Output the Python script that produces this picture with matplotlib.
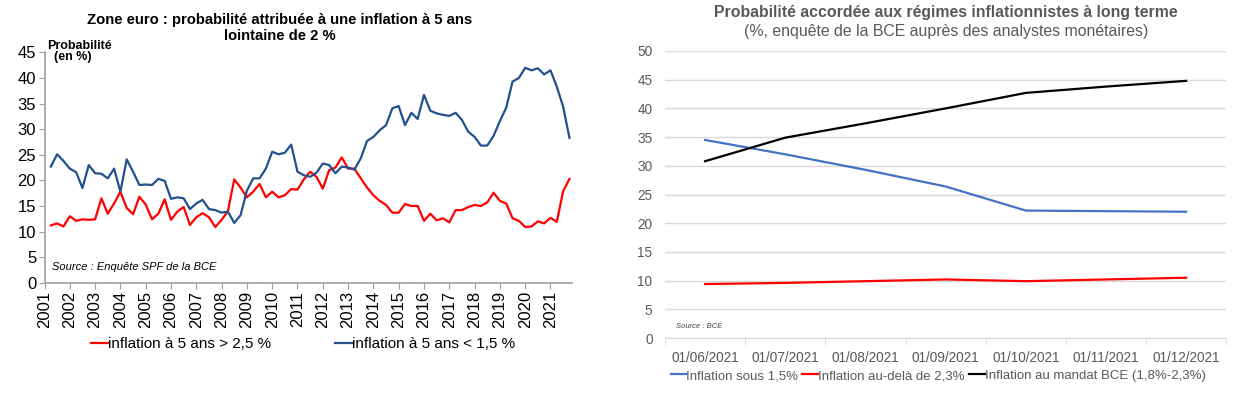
import matplotlib
matplotlib.use("Agg")
import matplotlib.pyplot as plt
import numpy as np

plt.rcParams['font.family'] = ['Liberation Sans', 'DejaVu Sans']

# --- left chart: SPF survey, quarterly 2001Q1 - 2021Q3 ---
quarters = [f"{y}Q{q}" for y in range(2001, 2022) for q in range(1, 5)][:83]

prob_above_25 = [
    11.2, 11.6, 11.0, 13.0, 12.1, 12.4, 12.3, 12.4, 16.5, 13.5,
    15.5, 17.8, 14.6, 13.4, 16.8, 15.3, 12.4, 13.5, 16.3, 12.3,
    13.9, 14.8, 11.3, 12.8, 13.6, 12.8, 10.9, 12.3, 14.0, 20.2,
    18.6, 16.7, 17.8, 19.3, 16.7, 17.8, 16.7, 17.1, 18.3, 18.2,
    20.2, 21.7, 20.7, 18.4, 22.0, 22.5, 24.5, 22.3, 22.3, 20.4,
    18.6, 17.1, 16.0, 15.2, 13.7, 13.7, 15.4, 15.0, 15.0, 12.1,
    13.5, 12.2, 12.6, 11.8, 14.2, 14.2, 14.8, 15.2, 15.0, 15.7,
    17.6, 16.0, 15.5, 12.6, 12.1, 10.9, 11.0, 12.0, 11.6, 12.7,
    11.9, 17.9, 20.3,
]
prob_below_15 = [
    22.7, 25.1, 23.8, 22.3, 21.6, 18.5, 23.0, 21.4, 21.3, 20.4,
    22.3, 17.8, 24.1, 21.7, 19.1, 19.2, 19.1, 20.3, 19.9, 16.4,
    16.7, 16.5, 14.4, 15.5, 16.2, 14.4, 14.2, 13.7, 13.9, 11.7,
    13.2, 18.0, 20.4, 20.4, 22.3, 25.6, 25.1, 25.4, 27.0, 21.7,
    21.0, 20.7, 21.5, 23.3, 23.0, 21.4, 22.7, 22.5, 22.1, 24.3,
    27.7, 28.5, 29.8, 30.8, 34.1, 34.5, 30.8, 33.2, 32.0, 36.7,
    33.6, 33.1, 32.8, 32.6, 33.2, 31.8, 29.5, 28.5, 26.8, 26.8,
    28.7, 31.6, 34.2, 39.3, 40.0, 42.0, 41.5, 41.9, 40.7, 41.5,
    38.3, 34.4, 28.3,
]
years = list(range(2001, 2022))

# --- right chart: ECB survey of monetary analysts ---
dates = ["01/06/2021", "01/07/2021", "01/08/2021", "01/09/2021",
         "01/10/2021", "01/11/2021", "01/12/2021"]
sous_15 = [34.5, 32.0, 29.3, 26.4, 22.2, 22.1, 22.0]
dela_23 = [9.4, 9.6, 9.9, 10.2, 9.9, 10.2, 10.5]
mandat = [30.8, 34.9, 37.4, 40.0, 42.7, 43.8, 44.8]

fig = plt.figure(figsize=(12.5, 4), dpi=100)

# left
ax1 = fig.add_axes([0.0356, 0.293, 0.422, 0.576])
xq = [int(q[:4]) + int(q[-1]) / 4 for q in quarters]
navy = '#23508E'
ax1.plot(xq, prob_above_25, color='#FF0000', lw=1.6, label='inflation à 5 ans > 2,5 %')
ax1.plot(xq, prob_below_15, color=navy, lw=1.6, label='inflation à 5 ans < 1,5 %')
ax1.set_xlim(2001, 2021.85)
ax1.set_ylim(0, 45)
ax1.set_yticks(range(0, 46, 5))
ax1.set_xticks(years)
ax1.set_xticklabels([str(y) for y in years], rotation=90, fontsize=12)
ax1.tick_params(axis='y', labelsize=12, length=4, color='#A0A0A0', pad=2)
ax1.tick_params(axis='x', length=4, color='#A0A0A0', pad=2)
for s in ['top', 'right']:
    ax1.spines[s].set_visible(False)
for s in ['left', 'bottom']:
    ax1.spines[s].set_color('#A0A0A0')
    ax1.spines[s].set_linewidth(1.2)
ax1.text(0.005, 1.055, 'Probabilité\n  (en %)', transform=ax1.transAxes, fontsize=9,
         fontweight='bold', va='top', ha='left', linespacing=0.9)
ax1.text(0.015, 0.045, 'Source : Enquête SPF de la BCE', transform=ax1.transAxes,
         fontsize=8, style='italic', va='bottom')
fig.text(0.224, 0.893, 'Zone euro : probabilité attribuée à une inflation à 5 ans\nlointaine de 2 %',
         ha='center', va='bottom', fontsize=10.7, fontweight='bold', linespacing=1.15)
ax1.legend(loc='center', bbox_to_anchor=(0.49, -0.265), ncol=2, frameon=False,
           fontsize=11, handlelength=1.1, handletextpad=0.0, columnspacing=4.2,
           borderaxespad=0, borderpad=0)

# right
ax2 = fig.add_axes([0.532, 0.155, 0.449, 0.7175])
xc = np.arange(len(dates))
ax2.plot(xc, sous_15, color='#4472C4', lw=1.6, label='Inflation sous 1,5%')
ax2.plot(xc, dela_23, color='#FF0000', lw=1.6, label='Inflation au-delà de 2,3%')
ax2.plot(xc, mandat, color='#000000', lw=1.6, label='Inflation au mandat BCE (1,8%-2,3%)')
ax2.set_xlim(-0.5, len(dates) - 0.5)
ax2.set_ylim(0, 50)
ax2.set_yticks(range(0, 51, 5))
ax2.yaxis.grid(True, color='#D9D9D9', lw=1)
ax2.set_axisbelow(True)
ax2.set_xticks(xc)
ax2.set_xticklabels(dates, fontsize=9.8, color='#595959')
ax2.set_xticks(np.arange(-0.5, len(dates)), minor=True)
ax2.tick_params(axis='x', which='major', length=0, pad=9)
ax2.tick_params(axis='x', which='minor', length=5, color='#D9D9D9')
ax2.tick_params(axis='y', length=0, labelsize=9.8, labelcolor='#595959', pad=9)
for s in ['top', 'right', 'left']:
    ax2.spines[s].set_visible(False)
ax2.spines['bottom'].set_color('#D9D9D9')
ax2.text(0.02, 0.035, 'Source : BCE', transform=ax2.transAxes, fontsize=5.5,
         style='italic', color='#404040')
fig.text(0.757, 0.968, 'Probabilité accordée aux régimes inflationnistes à long terme',
         ha='center', va='center', fontsize=11.4, fontweight='bold', color='#595959')
fig.text(0.757, 0.922, '(%, enquête de la BCE auprès des analystes monétaires)',
         ha='center', va='center', fontsize=11.4, color='#595959')
ax2.legend(loc='center left', bbox_to_anchor=(0.01, -0.132), ncol=3, frameon=False,
           fontsize=9.5, handlelength=1.2, handletextpad=0.0, columnspacing=0.3,
           labelcolor='#595959', borderaxespad=0, borderpad=0)

fig.savefig('out.png', dpi=100)
